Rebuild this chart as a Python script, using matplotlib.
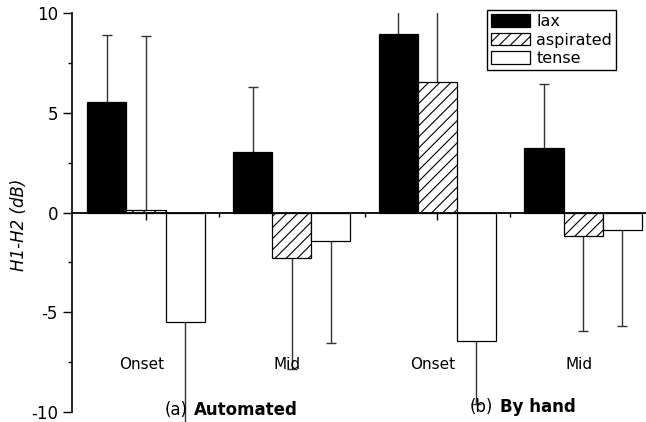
import matplotlib
matplotlib.use('Agg')
import matplotlib.pyplot as plt
import numpy as np

plt.rcParams['font.family'] = 'DejaVu Sans'
plt.rcParams['axes.unicode_minus'] = False
plt.rcParams['hatch.linewidth'] = 0.8

# group labels along the axis
groups = ['Onset', 'Mid', 'Onset', 'Mid']

# mean H1-H2 (dB) and one-sided error (sd) per group
lax = [5.55, 3.03, 8.95, 3.21]
lax_err = [3.35, 3.26, 3.3, 3.23]
asp = [0.12, -2.26, 6.52, -1.17]
asp_err = [8.73, 5.59, 5.0, 4.75]
tense = [-5.5, -1.42, -6.42, -0.90]
tense_err = [5.5, 5.12, 3.18, 4.77]

fig = plt.figure(figsize=(6.46, 4.22), dpi=100)
ax = fig.add_axes([72/646, 0, 574/646, 409/422])

x = np.arange(1, 5)
w = 0.268
series = [(lax, lax_err, 'black', None, 'lax'),
          (asp, asp_err, 'white', '///', 'aspirated'),
          (tense, tense_err, 'white', None, 'tense')]

for i, (vals, errs, fc, hatch, lab) in enumerate(series):
    pos = x + (i - 1) * w
    ax.bar(pos, vals, w, color=fc, edgecolor='black', hatch=hatch,
           linewidth=0.9, label=lab, zorder=2)
    # error bar only on the outer side of each bar
    vals = np.array(vals)
    ends = vals + np.sign(vals) * np.array(errs)
    ax.vlines(pos, vals, ends, color='#333333', lw=1, zorder=1)
    ax.plot(pos, ends, ls='none', marker='_', markersize=7, mew=1,
            color='#333333', zorder=1)

ax.set_xlim(0.492, 4.432)
ax.set_ylim(-10.5, 10)

for s in ['top', 'right']:
    ax.spines[s].set_visible(False)
ax.spines['bottom'].set_position(('data', 0))
ax.spines['left'].set_bounds(-10, 10)
ax.spines['left'].set_linewidth(1.2)
ax.spines['bottom'].set_linewidth(1.3)

ax.set_yticks([-10, -5, 0, 5, 10])
ax.set_yticks([-7.5, -2.5, 2.5, 7.5], minor=True)
ax.set_xticks(x)
ax.set_xticklabels([])
ax.set_xticks([1.5, 2.5, 3.5], minor=True)
ax.tick_params(axis='y', which='major', length=6.5, width=1, labelsize=12, pad=3.5)
ax.tick_params(axis='y', which='minor', length=3, width=1)
ax.tick_params(axis='x', which='major', length=5, width=1)
ax.tick_params(axis='x', which='minor', length=2.7, width=1)

for xi, g in zip(x, groups):
    ax.text(xi - 0.03, -7.84, g, ha='center', va='baseline', fontsize=11)

ax.text(1.288, -10.15, '(a)', ha='right', va='baseline', fontsize=12)
ax.text(1.329, -10.15, 'Automated', ha='left', va='baseline', fontsize=12, fontweight='bold')
ax.text(3.385, -10.0, '(b)', ha='right', va='baseline', fontsize=12)
ax.text(3.430, -10.0, 'By hand', ha='left', va='baseline', fontsize=12, fontweight='bold')

fig.text(19/646, 1 - 225/422, 'H1-H2 (dB)', rotation=90, ha='center', va='center',
         fontsize=12, style='italic')

leg = ax.legend(loc='upper right', bbox_to_anchor=(616/646, 1 - 10/422),
                bbox_transform=fig.transFigure, borderaxespad=0, fontsize=11.5,
                frameon=True, fancybox=False, edgecolor='black', framealpha=1,
                handlelength=2.4, handleheight=0.85, handletextpad=0.4,
                borderpad=0.25, labelspacing=0.22)
leg.get_frame().set_linewidth(1.0)

fig.savefig('out.png', dpi=100)
